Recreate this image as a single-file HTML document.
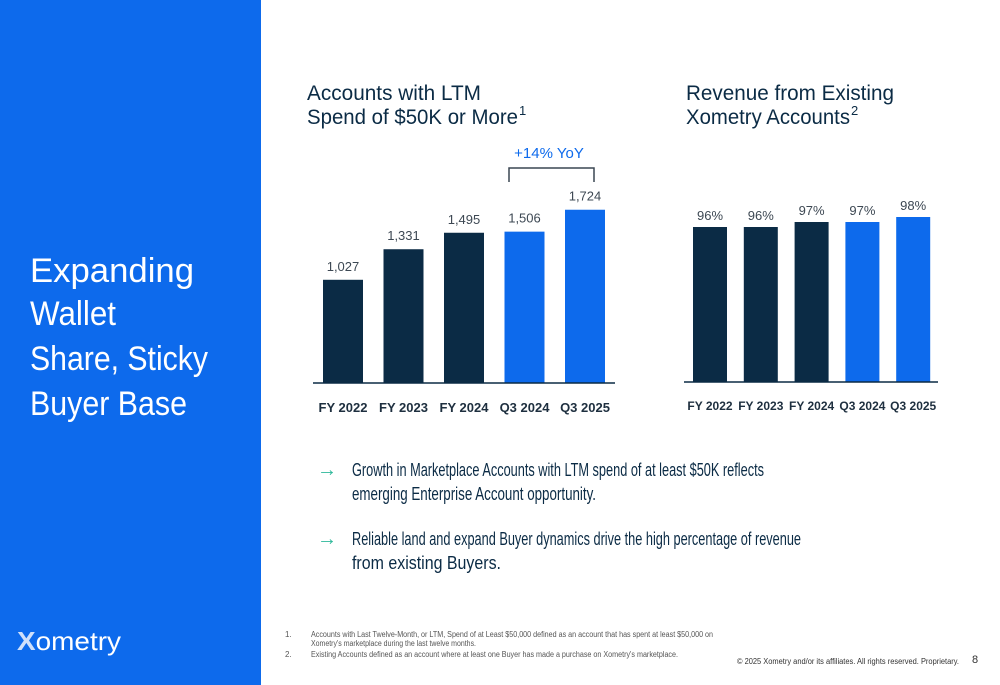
<!DOCTYPE html>
<html><head><meta charset="utf-8"><style>
html,body{margin:0;padding:0;background:#fff}
svg{display:block;font-family:"Liberation Sans",sans-serif}
</style></head><body>
<svg id="slide" width="1000" height="685" viewBox="0 0 1000 685">
<rect x="0" y="0" width="261" height="685" fill="#0d6aec"/>
<g fill="#fff" font-size="34">
<text x="30" y="282" textLength="164" lengthAdjust="spacingAndGlyphs">Expanding</text>
<text x="30" y="325" textLength="86" lengthAdjust="spacingAndGlyphs">Wallet</text>
<text x="30" y="370" textLength="178" lengthAdjust="spacingAndGlyphs">Share, Sticky</text>
<text x="30" y="415" textLength="157" lengthAdjust="spacingAndGlyphs">Buyer Base</text>
</g>
<g>
<text x="17" y="650" fill="#fff" font-size="26" textLength="104" lengthAdjust="spacingAndGlyphs"><tspan fill="#cfe0fb" font-weight="bold">X</tspan>ometry</text>
</g>
<g fill="#0b2b45" font-size="21">
<text x="307" y="100" textLength="174" lengthAdjust="spacingAndGlyphs">Accounts with LTM</text>
<text x="307" y="124" textLength="211" lengthAdjust="spacingAndGlyphs">Spend of $50K or More</text>
<text x="519" y="115" font-size="13">1</text>
</g>
<g fill="#0b2b45" font-size="21">
<text x="686" y="100" textLength="208" lengthAdjust="spacingAndGlyphs">Revenue from Existing</text>
<text x="686" y="124" textLength="164" lengthAdjust="spacingAndGlyphs">Xometry Accounts</text>
<text x="851" y="115" font-size="13">2</text>
</g>
<g id="chart1"></g>
<g id="chart2"></g>
<g>
<text x="549" y="158" fill="#0d6aec" font-size="15" text-anchor="middle">+14% YoY</text>
<path d="M509 182 V168 H594 V182" fill="none" stroke="#3a4652" stroke-width="1.5"/>
</g>
<g font-size="18" fill="#0b2b45">
<text x="317" y="476" fill="#2eb89a" font-size="20">→</text>
<text x="352" y="476" textLength="412" lengthAdjust="spacingAndGlyphs">Growth in Marketplace Accounts with LTM spend of at least $50K reflects</text>
<text x="352" y="500" textLength="244" lengthAdjust="spacingAndGlyphs">emerging Enterprise Account opportunity.</text>
<text x="317" y="545" fill="#2eb89a" font-size="20">→</text>
<text x="352" y="545" textLength="449" lengthAdjust="spacingAndGlyphs">Reliable land and expand Buyer dynamics drive the high percentage of revenue</text>
<text x="352" y="569" textLength="149" lengthAdjust="spacingAndGlyphs">from existing Buyers.</text>
</g>
<g font-size="8" fill="#555">
<text x="285" y="637">1.</text>
<text x="311" y="637" textLength="402" lengthAdjust="spacingAndGlyphs">Accounts with Last Twelve-Month, or LTM, Spend of at Least $50,000 defined as an account that has spent at least $50,000 on</text>
<text x="311" y="646" textLength="165" lengthAdjust="spacingAndGlyphs">Xometry's marketplace during the last twelve months.</text>
<text x="285" y="657">2.</text>
<text x="311" y="657" textLength="367" lengthAdjust="spacingAndGlyphs">Existing Accounts defined as an account where at least one Buyer has made a purchase on Xometry's marketplace.</text>
<text x="737" y="664" textLength="222" lengthAdjust="spacingAndGlyphs" fill="#333">© 2025  Xometry and/or its affiliates. All rights reserved. Proprietary.</text>
<text x="972" y="663" font-size="11" fill="#333">8</text>
</g>
</svg>
<script>
const cats = ["FY 2022","FY 2023","FY 2024","Q3 2024","Q3 2025"];
const accounts = [1027,1331,1495,1506,1724];
const accountLabels = ["1,027","1,331","1,495","1,506","1,724"];
const revenuePct = [96,96,97,97,98];
const revenueLabels = ["96%","96%","97%","97%","98%"];
const NS="http://www.w3.org/2000/svg";
function mk(tag,attrs,parent){const e=document.createElementNS(NS,tag);for(const k in attrs)e.setAttribute(k,attrs[k]);parent.appendChild(e);return e;}
function colorFor(i){return i<3?"#0b2b45":"#0d6aec";}
// chart 1
(function(){
  const g=document.getElementById('chart1');
  const base=383, x0=343, step=60.5, bw=40;
  const y=v=>base-v*0.1005;
  accounts.forEach((v,i)=>{
    const cx=x0+i*step;
    const r=mk('rect',{x:cx-bw/2,y:y(v),width:bw,height:base-y(v),fill:colorFor(i)},g);
    
    
    const t=mk('text',{x:cx,y:y(v)-9,'text-anchor':'middle','font-size':13,fill:'#3d4853'},g);
    t.textContent=accountLabels[i];
    
    
    const c=mk('text',{x:cx,y:412,'text-anchor':'middle','font-size':13,'font-weight':'bold',fill:'#1e2f3f'},g);
    c.textContent=cats[i];
    
    
  });
  const ax=mk('line',{x1:313,x2:615,y1:base,y2:base,stroke:'#0b2b45','stroke-width':1.5},g);
  
  
})();
// chart 2
(function(){
  const g=document.getElementById('chart2');
  const base=382, x0=710, step=50.8, bw=34;
  const y=v=>base-(v-65)*5;
  revenuePct.forEach((v,i)=>{
    const cx=x0+i*step;
    const r=mk('rect',{x:cx-bw/2,y:y(v),width:bw,height:base-y(v),fill:colorFor(i)},g);
    
    
    const t=mk('text',{x:cx,y:y(v)-7,'text-anchor':'middle','font-size':13,fill:'#3d4853'},g);
    t.textContent=revenueLabels[i];
    
    
    const c=mk('text',{x:cx,y:410,'text-anchor':'middle','font-size':12,'font-weight':'bold',fill:'#1e2f3f'},g);
    c.textContent=cats[i];
    
    
  });
  const ax=mk('line',{x1:684,x2:938,y1:base,y2:base,stroke:'#0b2b45','stroke-width':1.5},g);
  
  
})();
</script>
</body></html>
